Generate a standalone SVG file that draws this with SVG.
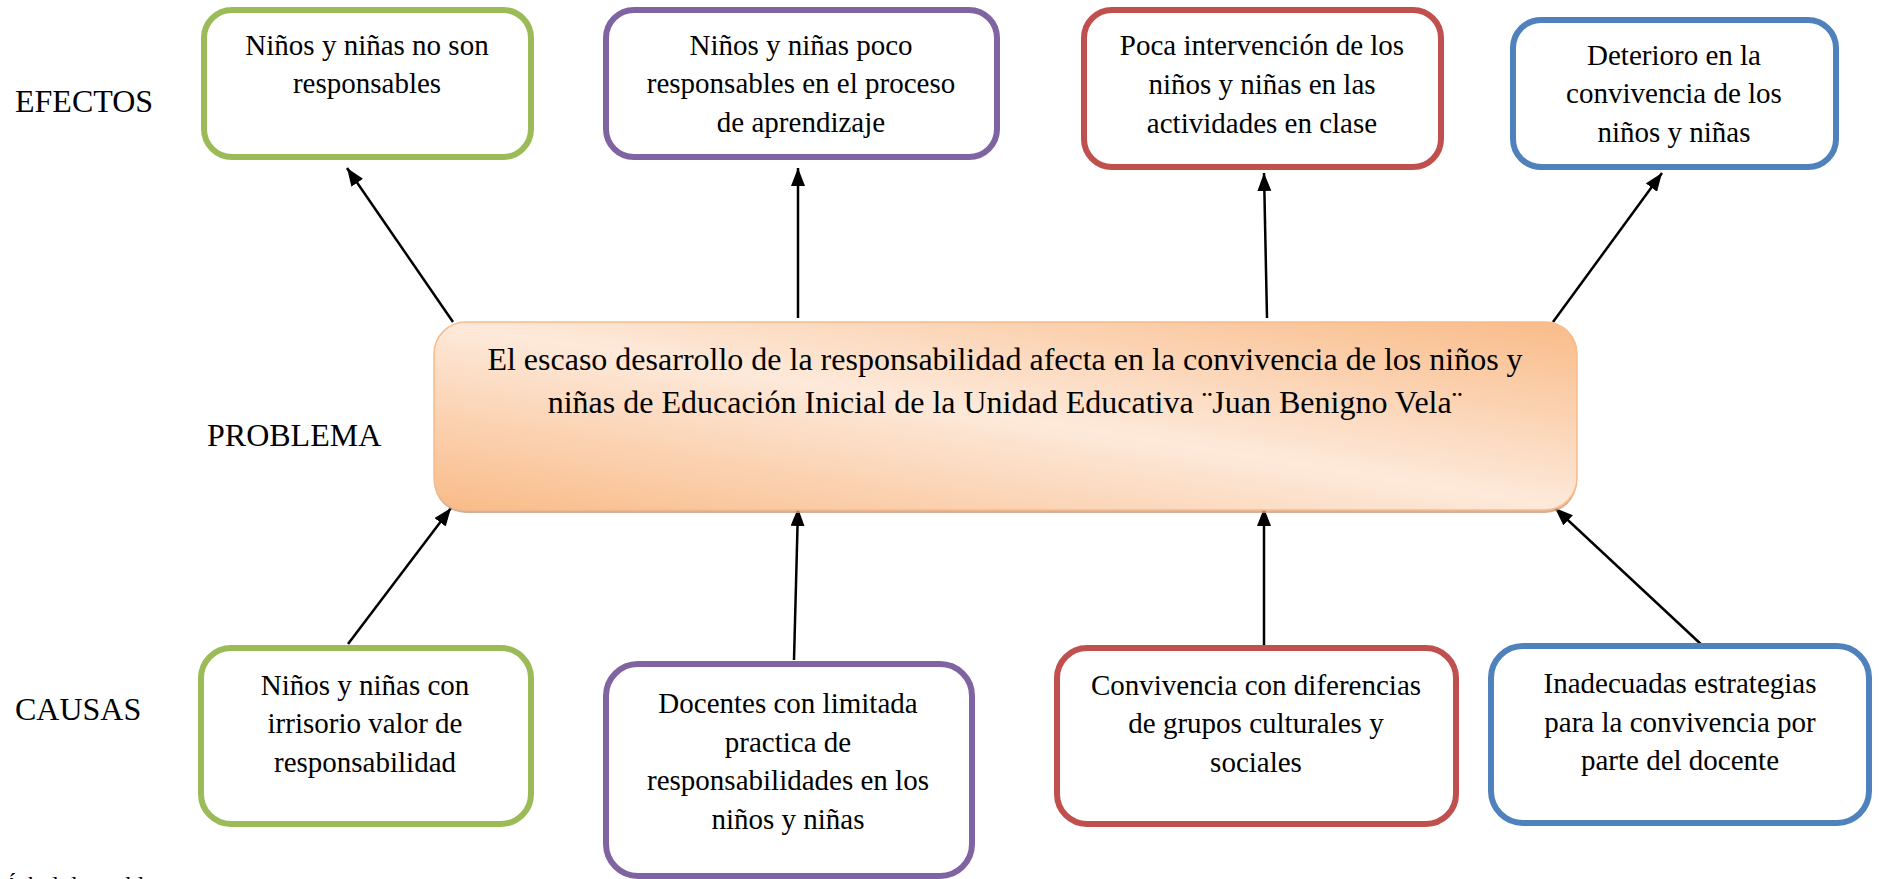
<svg xmlns="http://www.w3.org/2000/svg" width="1879" height="879" viewBox="0 0 1879 879">
<style>
  text { font-family: "Liberation Serif", "Times New Roman", serif; fill: #000; }
  .lbl { font-size: 32px; }
  .bt { font-size: 29px; text-anchor: middle; }
  .ct { font-size: 32px; text-anchor: middle; }
  .box { fill: #fff; stroke-width: 6; }
  .g { stroke: #9bbb59; }
  .p { stroke: #8064a2; }
  .r { stroke: #c0504d; }
  .b { stroke: #4f81bd; }
  .con line { stroke: #000; stroke-width: 2.5; marker-end: url(#ah); }
</style>
<defs>
  <marker id="ah" markerUnits="userSpaceOnUse" markerWidth="20" markerHeight="16" refX="18" refY="7" orient="auto">
    <path d="M0,0 L18,7 L0,14 z" fill="#000"/>
  </marker>
  <linearGradient id="cg" x1="0" y1="1" x2="1" y2="0">
    <stop offset="0" stop-color="#f9bb88"/>
    <stop offset="0.5" stop-color="#fde9da"/>
    <stop offset="1" stop-color="#f9bb88"/>
  </linearGradient>
</defs>
<rect width="1879" height="879" fill="#fff"/>

<text class="lbl" x="15" y="112">EFECTOS</text>
<text class="lbl" x="207" y="446">PROBLEMA</text>
<text class="lbl" x="15" y="720">CAUSAS</text>
<text x="3" y="893" style="font-size:24px">Árbol de problemas</text>

<g class="con">
  <line x1="453" y1="322" x2="347" y2="168"/>
  <line x1="798" y1="318" x2="798" y2="168"/>
  <line x1="1267" y1="318" x2="1264" y2="173"/>
  <line x1="1553" y1="322" x2="1662" y2="173"/>
  <line x1="348" y1="644" x2="451" y2="508"/>
  <line x1="794" y1="660" x2="798" y2="508"/>
  <line x1="1264" y1="645" x2="1264" y2="508"/>
  <line x1="1704" y1="647" x2="1555" y2="508"/>
</g>

<g id="problema">
  <rect x="434" y="324" width="1143" height="189" rx="32" fill="#c99c7c" opacity="0.8"/>
  <rect x="434" y="322" width="1143" height="188" rx="32" fill="url(#cg)" stroke="#f8bb8c" stroke-width="1.5"/>
  <text class="ct" x="1005" y="370">El escaso desarrollo de la responsabilidad afecta en la convivencia de los niños y</text>
  <text class="ct" x="1005" y="413">niñas de Educación Inicial de la Unidad Educativa ¨Juan Benigno Vela¨</text>
</g>

<g id="efecto1">
  <rect class="box g" x="204" y="10" width="327" height="147" rx="28"/>
  <text class="bt" x="367" y="55">Niños y niñas no son</text>
  <text class="bt" x="367" y="93">responsables</text>
</g>
<g id="efecto2">
  <rect class="box p" x="606" y="10" width="391" height="147" rx="28"/>
  <text class="bt" x="801" y="55">Niños y niñas poco</text>
  <text class="bt" x="801" y="93">responsables en el proceso</text>
  <text class="bt" x="801" y="132">de aprendizaje</text>
</g>
<g id="efecto3">
  <rect class="box r" x="1084" y="10" width="357" height="157" rx="28"/>
  <text class="bt" x="1262" y="55">Poca intervención de los</text>
  <text class="bt" x="1262" y="94">niños y niñas en las</text>
  <text class="bt" x="1262" y="133">actividades en clase</text>
</g>
<g id="efecto4">
  <rect class="box b" x="1513" y="20" width="323" height="147" rx="28"/>
  <text class="bt" x="1674" y="65">Deterioro en la</text>
  <text class="bt" x="1674" y="103">convivencia de los</text>
  <text class="bt" x="1674" y="142">niños y niñas</text>
</g>

<g id="causa1">
  <rect class="box g" x="201" y="648" width="330" height="176" rx="30"/>
  <text class="bt" x="365" y="695">Niños y niñas con</text>
  <text class="bt" x="365" y="733">irrisorio valor de</text>
  <text class="bt" x="365" y="772">responsabilidad</text>
</g>
<g id="causa2">
  <rect class="box p" x="606" y="664" width="366" height="212" rx="32"/>
  <text class="bt" x="788" y="713">Docentes con limitada</text>
  <text class="bt" x="788" y="752">practica de</text>
  <text class="bt" x="788" y="790">responsabilidades en los</text>
  <text class="bt" x="788" y="829">niños y niñas</text>
</g>
<g id="causa3">
  <rect class="box r" x="1057" y="648" width="399" height="176" rx="30"/>
  <text class="bt" x="1256" y="695">Convivencia con diferencias</text>
  <text class="bt" x="1256" y="733">de grupos culturales y</text>
  <text class="bt" x="1256" y="772">sociales</text>
</g>
<g id="causa4">
  <rect class="box b" x="1491" y="646" width="378" height="177" rx="32"/>
  <text class="bt" x="1680" y="693">Inadecuadas estrategias</text>
  <text class="bt" x="1680" y="732">para la convivencia por</text>
  <text class="bt" x="1680" y="770">parte del docente</text>
</g>
</svg>
